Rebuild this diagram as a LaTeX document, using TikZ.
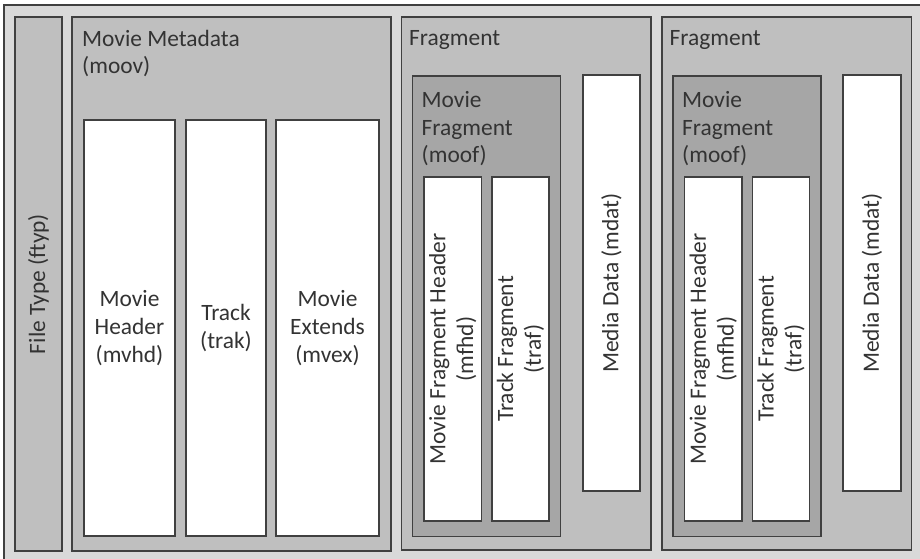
\documentclass[tikz,border=0pt]{standalone}
\usepackage{fontspec}
\setmainfont{Carlito}
\definecolor{pagegray}{HTML}{D9D9D9}
\definecolor{boxgray}{HTML}{BFBFBF}
\definecolor{moofgray}{HTML}{A6A6A6}
\definecolor{edgegray}{HTML}{404040}
\definecolor{textgray}{HTML}{333333}

\begin{document}
\begin{tikzpicture}[x=1bp, y=-1bp,
	box/.style={draw=edgegray, line width=1.6bp, inner sep=0pt, outer sep=0pt, anchor=north west},
	boxsize/.style 2 args={minimum width=#1bp, minimum height=#2bp},
	level1/.style={box, fill=boxgray},
	level2/.style={box, fill=moofgray},
	leaf/.style={box, fill=white},
	caption/.style={text=textgray, font=\fontsize{23.5}{28}\selectfont, align=center, inner sep=0pt},
	title/.style={caption, align=left, anchor=base west},
	upright/.style={caption, rotate=90},
	]
	\useasboundingbox (0,0) rectangle (920,559);
	\clip (0,0) rectangle (920,559);
	\fill[pagegray] (4,5) rectangle (920,559);
	\draw[edgegray, line width=2bp] (4,570) -- (4,5) -- (930,5);
	
	% file type
	\node[level1, boxsize={47}{534}] (ftyp) at (15,17) {};
	\node[upright] (ftyptext) at (ftyp.center) {File Type (ftyp)};
	
	% movie metadata (titles sit on the baseline of their last line)
	\node[level1, boxsize={319}{534}] (moov) at (72,17) {};
	\node[title] (moovtext) at ([shift={(10,57)}]moov.north west) {Movie Metadata\\(moov)};
	\node[leaf, boxsize={91}{416}] (mvhd) at (84,120) {};
	\node[leaf, boxsize={80}{416}] (trak) at (186,120) {};
	\node[leaf, boxsize={103}{416}] (mvex) at (276,120) {};
	\node[caption] (mvhdtext) at (mvhd.center) {Movie\\Header\\(mvhd)};
	\node[caption] (traktext) at (trak.center) {Track\\(trak)};
	\node[caption] (mvextext) at (mvex.center) {Movie\\Extends\\(mvex)};
	
	% fragments
	\foreach \f/\dx in {1/0, 2/260.5} {
		\node[level1, boxsize={249.5}{533}] (frag\f) at (401.5+\dx,17) {};
		\node[title] (fragtext\f) at ([shift={(7.5,29)}]frag\f.north west) {Fragment};
		
		\node[level2, boxsize={148}{460.5}] (moof\f) at (412.5+\dx,76) {};
		\node[title] (mooftext\f) at ([shift={(9,87)}]moof\f.north west) {Movie\\Fragment\\(moof)};
		\node[leaf, boxsize={57.5}{344}] (mfhd\f) at (424+\dx,177) {};
		\node[leaf, boxsize={57}{344}] (traf\f) at (492+\dx,177) {};
		\node[upright] (mfhdtext\f) at (mfhd\f.center) {Movie Fragment Header\\(mfhd)};
		\node[upright] (traftext\f) at (traf\f.center) {Track Fragment\\(traf)};
		
		\node[leaf, boxsize={57.5}{416}] (mdat\f) at (582.7+\dx,75) {};
		\node[upright] (mdattext\f) at (mdat\f.center) {Media Data (mdat)};
	}
\end{tikzpicture}
\end{document}
